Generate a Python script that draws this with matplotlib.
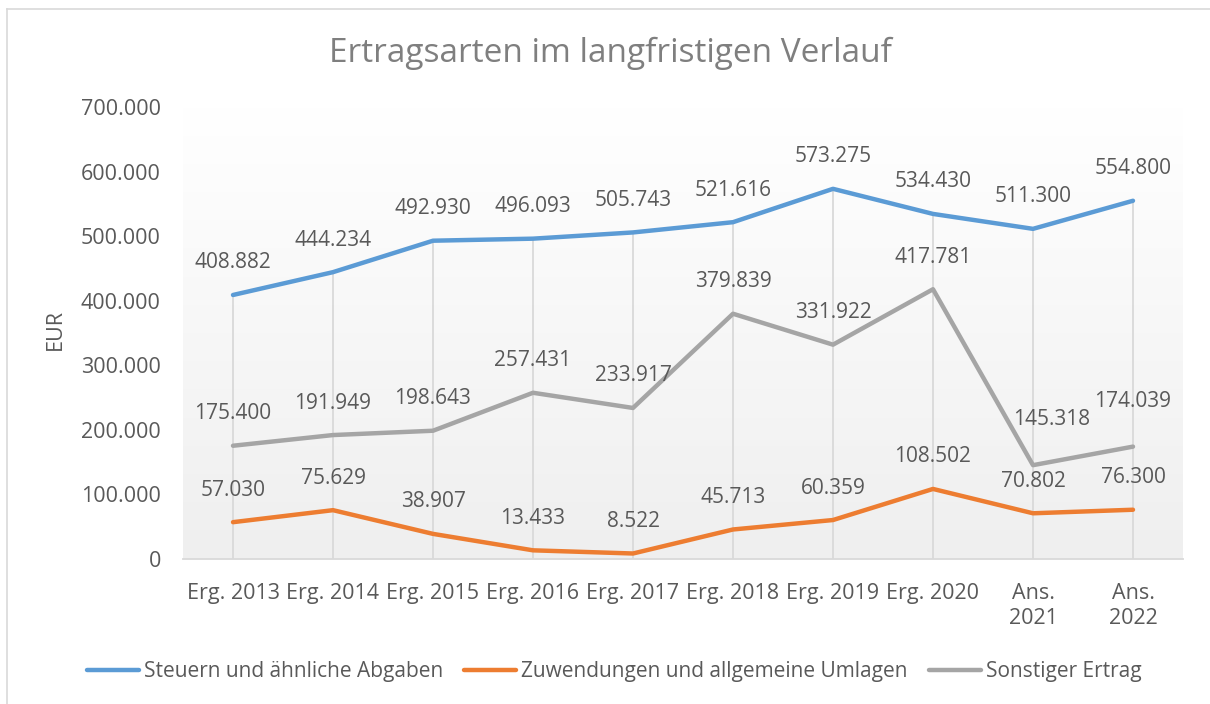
import numpy as np
from matplotlib import pyplot as plt
from matplotlib.lines import Line2D

categories = ['Erg. 2013', 'Erg. 2014', 'Erg. 2015', 'Erg. 2016', 'Erg. 2017',
              'Erg. 2018', 'Erg. 2019', 'Erg. 2020', 'Ans.\n2021', 'Ans.\n2022']
steuern = [408882, 444234, 492930, 496093, 505743, 521616, 573275, 534430, 511300, 554800]
zuwendungen = [57030, 75629, 38907, 13433, 8522, 45713, 60359, 108502, 70802, 76300]
sonstige = [175400, 191949, 198643, 257431, 233917, 379839, 331922, 417781, 145318, 174039]
series_names = ['Steuern und ähnliche Abgaben', 'Zuwendungen und allgemeine Umlagen',
                'Sonstiger Ertrag']
yticks = [0, 100000, 200000, 300000, 400000, 500000, 600000, 700000]

plt.rcParams['font.family'] = ['Open Sans', 'DejaVu Sans']
text_col = '#595959'
colors = ['#5b9bd5', '#ed7d31', '#a5a5a5']


def fmt(v):
    return f'{v:,}'.replace(',', '.')


fig = plt.figure(figsize=(12.1, 7.04), dpi=100)
ax = fig.add_axes([183 / 1210, 145 / 704, 1000 / 1210, 452 / 704])
x = np.arange(len(categories))
ax.set_xlim(-0.5, len(categories) - 0.5)
ax.set_ylim(0, 700000)

# background gradient of the plot area
grad = np.linspace(1.0, 0.0, 256).reshape(-1, 1)
ax.imshow(grad, cmap=plt.matplotlib.colors.LinearSegmentedColormap.from_list(
    'bg', ['#efefef', '#ffffff']), aspect='auto',
    extent=(-0.5, len(categories) - 0.5, 0, 700000), zorder=0, origin='upper',
    vmin=0, vmax=1)

data = [steuern, zuwendungen, sonstige]

# drop lines from the highest series down to the axis
tops = np.max(np.array(data), axis=0)
ax.vlines(x, 0, tops, color='#d9d9d9', lw=1.3, zorder=1)

for vals, col, name in zip(data, colors, series_names):
    ax.plot(x, vals, color=col, lw=3.2, solid_capstyle='round', zorder=3, label=name)

# label offsets in pixels (dx, dy); default is centred 32px above the point
extra = {(2, 8): (19, 46), (2, 9): (0, 45)}
for si, vals in enumerate(data):
    for i, v in enumerate(vals):
        dx, dy = extra.get((si, i), (0, 32))
        ax.annotate(fmt(v), (x[i], v), xytext=(dx * 0.72, dy * 0.72),
                    textcoords='offset points', ha='center', va='center',
                    fontsize=15, color=text_col, zorder=4)

ax.set_yticks(yticks)
ax.set_yticklabels([fmt(t) for t in yticks])
ax.set_xticks(x)
ax.set_xticklabels(categories, linespacing=1.3)
ax.tick_params(axis='y', length=0, pad=16, labelsize=15.5, labelcolor=text_col)
ax.tick_params(axis='x', length=0, pad=17, labelsize=15.5, labelcolor=text_col)
for s in ['top', 'right', 'left']:
    ax.spines[s].set_visible(False)
ax.spines['bottom'].set_color('#d9d9d9')
ax.spines['bottom'].set_linewidth(1.3)
ax.spines['bottom'].set_zorder(2)

fig.text(55 / 1210, 1 - 330 / 704, 'EUR', rotation=90, ha='center', va='center',
         fontsize=15.5, color=text_col)
fig.text(610 / 1210, 1 - 53 / 704, 'Ertragsarten im langfristigen Verlauf',
         ha='center', va='center', fontsize=24, color='#7f7f7f')

fig.legend(loc='center', bbox_to_anchor=(614 / 1210, 1 - 672 / 704), ncol=3,
           frameon=False, fontsize=15, labelcolor=text_col, handlelength=2.5,
           handletextpad=0.25, columnspacing=1.0)

# chart area border (top and left)
fig.add_artist(Line2D([7 / 1210, 1], [1 - 9 / 704, 1 - 9 / 704], color='#d9d9d9', lw=1.2))
fig.add_artist(Line2D([7 / 1210, 7 / 1210], [0, 1 - 9 / 704], color='#d9d9d9', lw=1.2))

fig.savefig('out.png', dpi=100)
